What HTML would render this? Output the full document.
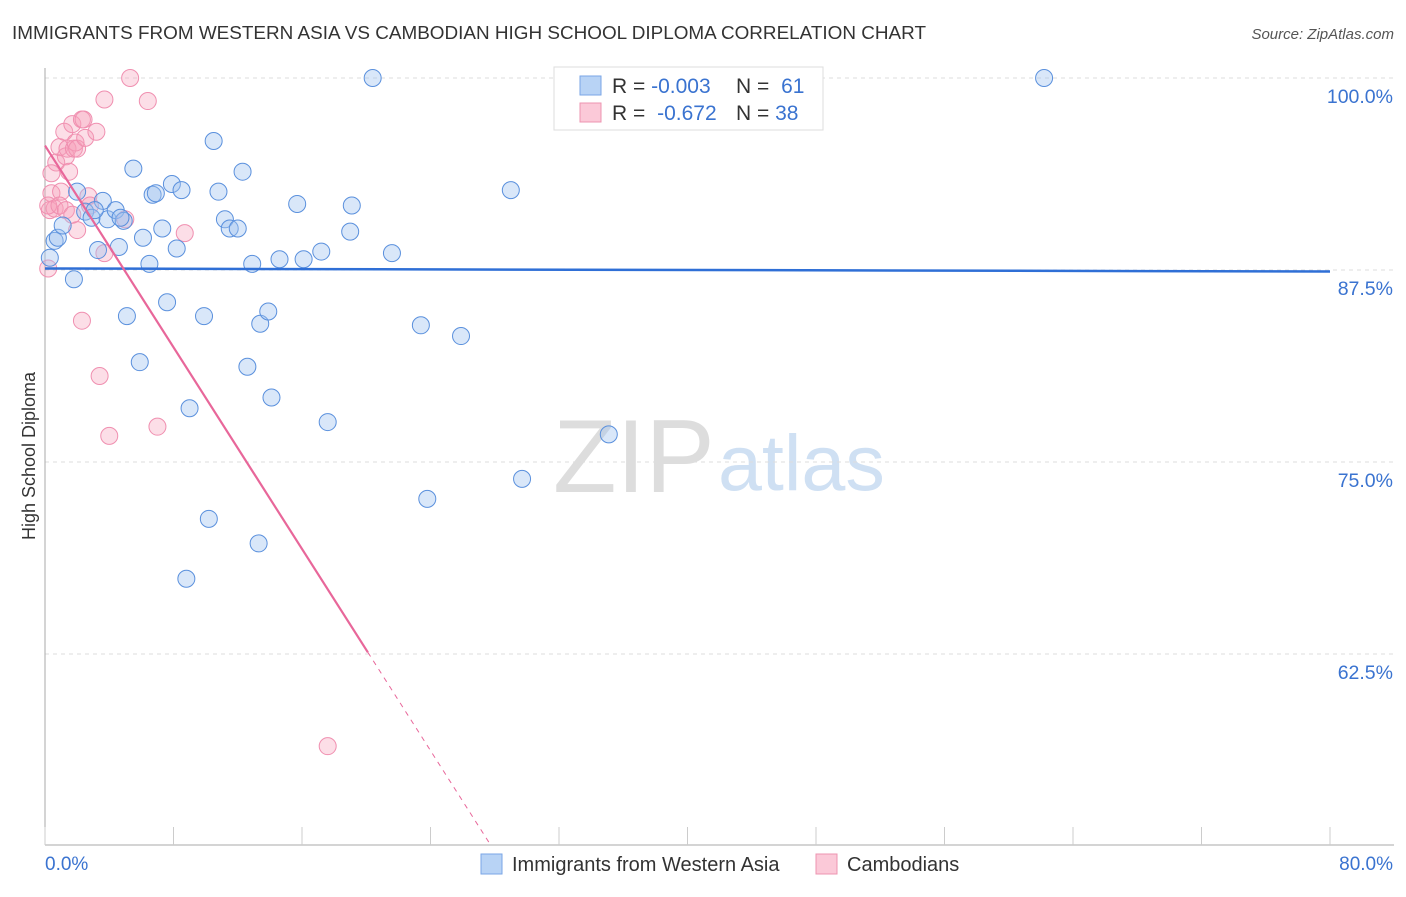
<!DOCTYPE html>
<html><head><meta charset="utf-8"><style>
body{margin:0;background:#fff;font-family:"Liberation Sans",sans-serif}
svg text{font-family:"Liberation Sans",sans-serif}
</style></head><body>
<svg id="c" width="1406" height="892" xmlns="http://www.w3.org/2000/svg">
<text x="12" y="39" font-size="18" fill="#333" textLength="914" lengthAdjust="spacingAndGlyphs">IMMIGRANTS FROM WESTERN ASIA VS CAMBODIAN HIGH SCHOOL DIPLOMA CORRELATION CHART</text>
<text x="1394" y="39" font-size="15" fill="#555" font-style="italic" text-anchor="end">Source: ZipAtlas.com</text>
<text x="35" y="456" font-size="18" fill="#333" text-anchor="middle" transform="rotate(-90 35 456)">High School Diploma</text>
<text x="553" y="492" font-size="104" fill="#ddd" font-family="Liberation Serif">ZIP</text>
<text x="718" y="490" font-size="79" fill="#cfe0f3">atlas</text>
<g id="grid"></g><g id="axes"></g><g id="pts"></g><g id="trend"></g>
<g>
<rect x="554" y="67" width="269" height="63" fill="#fff" stroke="#ddd"/>
<rect x="580" y="76" width="21" height="19" fill="#b8d3f5" stroke="#7aa6e6"/>
<rect x="580" y="103" width="21" height="19" fill="#fbc9d8" stroke="#ee94b0"/>
<text x="612" y="93" font-size="21" fill="#333">R = <tspan fill="#3a73d0">-0.003</tspan></text>
<text x="736" y="93" font-size="21" fill="#333">N = <tspan fill="#3a73d0" dx="6">61</tspan></text>
<text x="612" y="120" font-size="21" fill="#333">R = <tspan fill="#3a73d0" dx="6">-0.672</tspan></text>
<text x="736" y="120" font-size="21" fill="#333">N = <tspan fill="#3a73d0">38</tspan></text>
</g>
<g>
<rect x="481" y="854" width="21" height="20" fill="#b8d3f5" stroke="#7aa6e6"/>
<text x="512" y="871" font-size="20" fill="#333">Immigrants from Western Asia</text>
<rect x="816" y="854" width="21" height="20" fill="#fbc9d8" stroke="#ee94b0"/>
<text x="847" y="871" font-size="20" fill="#333">Cambodians</text>
</g>
</svg>
<script>
const yTicks=[100,87.5,75,62.5];
const yTickLabels=["100.0%","87.5%","75.0%","62.5%"];
const xTickLabels=["0.0%","80.0%"];
const blueX=[0.3,0.6,0.8,1.1,1.8,2.0,2.5,2.9,3.3,3.6,3.9,4.4,4.6,4.9,5.1,5.5,5.9,6.1,6.5,6.7,6.9,7.3,7.6,7.9,8.2,8.5,9.0,9.9,10.2,10.5,10.8,11.2,11.5,12.0,12.3,12.6,12.9,13.3,13.4,13.9,14.1,14.6,15.7,16.1,17.2,17.6,19.0,19.1,20.4,21.6,23.4,23.8,25.9,29.0,29.7,35.1,44.0,62.2,8.8,3.1,4.7];
const blueY=[88.3,89.4,89.6,90.4,86.9,92.6,91.3,90.9,88.8,92.0,90.8,91.4,89.0,90.7,84.5,94.1,81.5,89.6,87.9,92.4,92.5,90.2,85.4,93.1,88.9,92.7,78.5,84.5,71.3,95.9,92.6,90.8,90.2,90.2,93.9,81.2,87.9,69.7,84.0,84.8,79.2,88.2,91.8,88.2,88.7,77.6,90.0,91.7,100,88.6,83.9,72.6,83.2,92.7,73.9,76.8,100,100,67.4,91.4,90.9];
const pinkX=[0.2,0.3,0.4,0.6,0.7,0.9,1.0,1.2,1.3,1.4,1.5,1.7,1.8,1.9,2.0,2.3,2.3,2.4,2.5,2.7,2.8,3.2,3.4,3.7,3.7,4.0,5.0,5.3,6.4,7.0,8.7,17.6,2.0,0.2,0.9,0.4,1.3,1.7];
const pinkY=[87.6,91.4,92.5,91.5,94.5,95.5,92.6,96.5,94.9,95.4,93.9,97.0,95.4,95.8,95.4,97.3,84.2,97.3,96.1,92.3,91.7,96.5,80.6,98.6,88.6,76.7,90.8,100,98.5,77.3,89.9,56.5,90.1,91.7,91.7,93.8,91.4,91.1];
const blueTrend=[87.6,87.4];
const pinkTrend=[95.6,-35.7];
const X=v=>45+v/80*1285, Y=v=>78+(100-v)*15.36;
const ns="http://www.w3.org/2000/svg";
function mk(t,a,p){const e=document.createElementNS(ns,t);for(const k in a)e.setAttribute(k,a[k]);document.getElementById(p).appendChild(e);return e;}
yTicks.forEach((v,i)=>{
 const g=mk('line',{x1:45,x2:1394,y1:Y(v),y2:Y(v),stroke:'#ddd','stroke-dasharray':'4 4'},'grid');
 
 
 const t=mk('text',{x:1393,y:Y(v)+25,'font-size':19.5,fill:'#3a73d0','text-anchor':'end'},'grid');t.textContent=yTickLabels[i];
 
 
});
let a=mk('line',{x1:45,x2:45,y1:68,y2:845,stroke:'#aaa'},'axes');


a=mk('line',{x1:45,x2:1394,y1:845,y2:845,stroke:'#aaa'},'axes');


for(let i=0;i<=10;i++){const tk=mk('line',{x1:X(i*8),x2:X(i*8),y1:827,y2:845,stroke:'#ccc'},'axes');
 
 }
let t=mk('text',{x:45,y:870,'font-size':19,fill:'#3a73d0'},'axes');t.textContent=xTickLabels[0];


t=mk('text',{x:1393,y:870,'font-size':19,fill:'#3a73d0','text-anchor':'end'},'axes');t.textContent=xTickLabels[1];


pinkX.forEach((x,i)=>{const c=mk('circle',{cx:X(x),cy:Y(pinkY[i]),r:8.5,fill:'rgba(245,160,185,0.35)',stroke:'#f08fb0','stroke-width':1},'pts');
 
 });
blueX.forEach((x,i)=>{const c=mk('circle',{cx:X(x),cy:Y(blueY[i]),r:8.5,fill:'rgba(160,195,240,0.4)',stroke:'#5a90dd','stroke-width':1},'pts');
 
 });
let l=mk('line',{x1:X(0),y1:Y(blueTrend[0]),x2:X(80),y2:Y(blueTrend[1]),stroke:'#2f6fd6','stroke-width':2.5},'trend');


const py=x=>pinkTrend[0]+(pinkTrend[1]-pinkTrend[0])*x/80;
const xs=20.1, xe=(Y(pinkTrend[0])-845)/(Y(pinkTrend[0])-Y(pinkTrend[1]))*80;
l=mk('line',{x1:X(0),y1:Y(py(0)),x2:X(xs),y2:Y(py(xs)),stroke:'#e8679a','stroke-width':2.2},'trend');


l=mk('line',{x1:X(xs),y1:Y(py(xs)),x2:X(xe),y2:845,stroke:'#e8679a','stroke-width':1,'stroke-dasharray':'5 5'},'trend');


</script>
</body></html>
